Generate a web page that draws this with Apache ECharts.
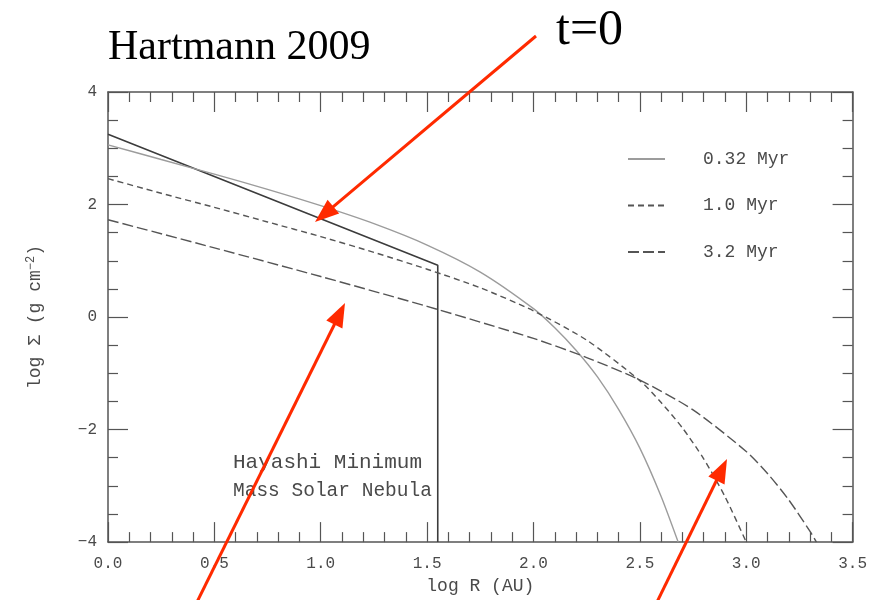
<!DOCTYPE html>
<html>
<head>
<meta charset="utf-8">
<script src="https://cdn.jsdelivr.net/npm/echarts@6/dist/echarts.min.js"></script>
<style>
  html, body { margin: 0; padding: 0; background: #fff; }
  #chart { width: 870px; height: 600px; }
</style>
</head>
<body>
<div id="chart"></div>
<script>
// Surface density profiles of a viscously evolving disk (log R in AU, log Sigma in g cm^-2)
const seriesNames = ['0.32 Myr', '1.0 Myr', '3.2 Myr'];

const logR_t0 = [0, 1.55, 1.55];
const sigma_t0 = [3.25, 0.92, -4.0];

const logR_032 = [0, 0.25, 0.5, 0.75, 1.0, 1.25, 1.5, 1.75, 2.0, 2.1, 2.2, 2.3, 2.4, 2.5, 2.6, 2.68];
const sigma_032 = [3.06, 2.80, 2.54, 2.27, 1.98, 1.66, 1.28, 0.80, 0.15, -0.19, -0.59, -1.06, -1.64, -2.33, -3.19, -4.0];

const logR_10 = [0, 0.25, 0.5, 0.75, 1.0, 1.25, 1.5, 1.75, 2.0, 2.25, 2.5, 2.6, 2.7, 2.8, 2.9, 3.0];
const sigma_10 = [2.46, 2.20, 1.95, 1.69, 1.43, 1.15, 0.85, 0.52, 0.11, -0.41, -1.13, -1.52, -1.97, -2.52, -3.19, -4.0];

const logR_32 = [0, 0.5, 1.0, 1.5, 2.0, 2.25, 2.5, 2.75, 3.0, 3.1, 3.2, 3.3, 3.33];
const sigma_32 = [1.73, 1.23, 0.72, 0.19, -0.38, -0.72, -1.12, -1.65, -2.39, -2.78, -3.25, -3.81, -4.0];

const xRange = [0, 3.5];
const yRange = [-4, 4];

const pairs = (xs, ys) => xs.map((x, i) => [x, ys[i]]);

const MONO = '"Liberation Mono", "DejaVu Sans Mono", monospace';
const SERIF = '"Liberation Serif", "DejaVu Serif", serif';
const AXIS_COLOR = '#555';
const TEXT_COLOR = '#4a4a4a';
const RED = '#ff2a00';

function axisBase(extra) {
  return Object.assign({
    type: 'value',
    axisLine: { show: true, onZero: false, lineStyle: { color: AXIS_COLOR, width: 1.5 } },
    axisTick: { show: true, inside: true, length: 20, lineStyle: { color: AXIS_COLOR, width: 1.2 } },
    minorTick: { show: true, length: 10, lineStyle: { color: AXIS_COLOR, width: 1.2 } },
    splitLine: { show: false }
  }, extra);
}

const chart = echarts.init(document.getElementById('chart'), null, { renderer: 'canvas' });

// Annotation arrows (tail -> tip), in page pixels
const arrows = [
  [[536, 36], [315, 222]],
  [[197, 602], [345, 303]],
  [[657, 602], [727, 459]]
];
const arrowGraphics = [];
arrows.forEach(([a, b]) => {
  const dx = b[0] - a[0], dy = b[1] - a[1];
  const len = Math.hypot(dx, dy);
  const ux = dx / len, uy = dy / len;
  const headL = 24, headW = 9;
  const bx = b[0] - ux * headL, by = b[1] - uy * headL;
  arrowGraphics.push({
    type: 'line',
    shape: { x1: a[0], y1: a[1], x2: bx + ux * 2, y2: by + uy * 2 },
    style: { stroke: RED, lineWidth: 3 },
    z: 100
  });
  arrowGraphics.push({
    type: 'polygon',
    shape: { points: [[b[0], b[1]], [bx - uy * headW, by + ux * headW], [bx + uy * headW, by - ux * headW]] },
    style: { fill: RED },
    z: 100
  });
});

const option = {
  animation: false,
  backgroundColor: '#fff',
  grid: { left: 108, right: 17, top: 92, bottom: 52 },
  legend: {
    data: seriesNames,
    orient: 'vertical',
    left: 622,
    top: 145,
    itemWidth: 37,
    itemHeight: 14,
    itemGap: 28.5,
    itemStyle: { opacity: 0 },
    textStyle: { fontFamily: MONO, fontSize: 18, color: TEXT_COLOR, padding: [0, 0, 0, 33] }
  },
  xAxis: [
    axisBase({
      position: 'bottom',
      min: xRange[0], max: xRange[1], interval: 0.5,
      minorTick: { show: true, splitNumber: 5, length: 10, lineStyle: { color: AXIS_COLOR, width: 1.2 } },
      axisLabel: { fontFamily: MONO, fontSize: 16, color: TEXT_COLOR, margin: 14, formatter: v => v.toFixed(1) },
      name: 'log R (AU)',
      nameLocation: 'middle',
      nameGap: 27,
      nameTextStyle: { fontFamily: MONO, fontSize: 18, color: TEXT_COLOR }
    }),
    axisBase({
      position: 'top',
      min: xRange[0], max: xRange[1], interval: 0.5,
      minorTick: { show: true, splitNumber: 5, length: 10, lineStyle: { color: AXIS_COLOR, width: 1.2 } },
      axisLabel: { show: false }
    })
  ],
  yAxis: [
    axisBase({
      position: 'left',
      min: yRange[0], max: yRange[1], interval: 2,
      minorTick: { show: true, splitNumber: 4, length: 10, lineStyle: { color: AXIS_COLOR, width: 1.2 } },
      axisLabel: { fontFamily: MONO, fontSize: 16, color: TEXT_COLOR, margin: 11,
                   formatter: v => (v < 0 ? '\u2212' + Math.abs(v) : String(v)) },
      name: 'log \u03A3 (g cm{sup|\u22122})',
      nameLocation: 'middle',
      nameGap: 62,
      nameRotate: 90,
      nameTextStyle: {
        fontFamily: MONO, fontSize: 18, color: TEXT_COLOR,
        rich: { sup: { fontFamily: MONO, fontSize: 12, color: TEXT_COLOR, verticalAlign: 'top', padding: [0, 0, 9, 0] } }
      }
    }),
    axisBase({
      position: 'right',
      min: yRange[0], max: yRange[1], interval: 2,
      minorTick: { show: true, splitNumber: 4, length: 10, lineStyle: { color: AXIS_COLOR, width: 1.2 } },
      axisLabel: { show: false }
    })
  ],
  series: [
    {
      name: 't=0', type: 'line', xAxisIndex: 0, yAxisIndex: 0,
      data: pairs(logR_t0, sigma_t0), symbol: 'none',
      lineStyle: { color: '#3c3c3c', width: 1.6 }
    },
    {
      name: seriesNames[0], type: 'line', xAxisIndex: 0, yAxisIndex: 0,
      data: pairs(logR_032, sigma_032), symbol: 'none', smooth: 0.25,
      color: '#9c9c9c',
      lineStyle: { color: '#9c9c9c', width: 1.4 }
    },
    {
      name: seriesNames[1], type: 'line', xAxisIndex: 0, yAxisIndex: 0,
      data: pairs(logR_10, sigma_10), symbol: 'none', smooth: 0.25,
      color: '#555',
      lineStyle: { color: '#555', width: 1.4, type: [6, 4] }
    },
    {
      name: seriesNames[2], type: 'line', xAxisIndex: 0, yAxisIndex: 0,
      data: pairs(logR_32, sigma_32), symbol: 'none', smooth: 0.25,
      color: '#555',
      lineStyle: { color: '#555', width: 1.4, type: [11, 4] }
    }
  ],
  graphic: [
    {
      type: 'text', left: 108, top: 27,
      style: { text: 'Hartmann 2009', fontFamily: SERIF, fontSize: 42, fill: '#000' }
    },
    {
      type: 'text', left: 556, top: 6,
      style: { text: 't=0', fontFamily: SERIF, fontSize: 50, fill: '#000' }
    },
    {
      type: 'text', left: 233, top: 452,
      style: { text: 'Hayashi Minimum', fontFamily: MONO, fontSize: 21, fill: TEXT_COLOR }
    },
    {
      type: 'text', left: 233, top: 481,
      style: { text: 'Mass Solar Nebula', fontFamily: MONO, fontSize: 19.5, fill: TEXT_COLOR }
    }
  ].concat(arrowGraphics)
};

chart.setOption(option);
</script>
</body>
</html>
